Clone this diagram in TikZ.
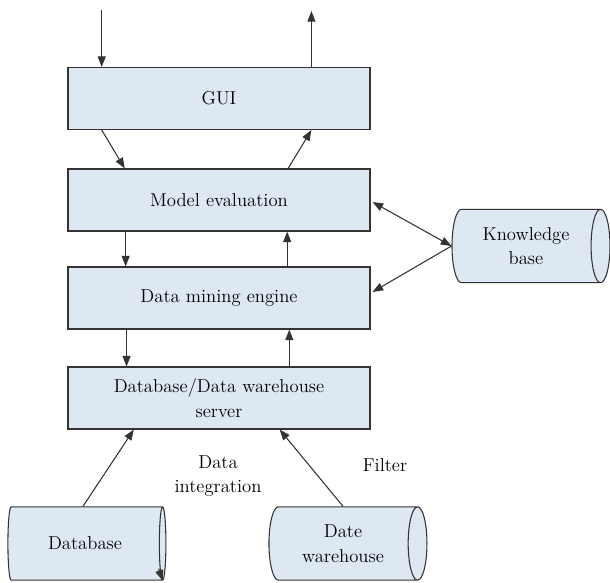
\documentclass[tikz,border=0pt]{standalone}
\usetikzlibrary{shapes.geometric,arrows.meta,calc}
\definecolor{boxfill}{HTML}{DDE8F3}
\definecolor{linegray}{HTML}{333333}
\begin{document}
\begin{tikzpicture}[x=0.75pt,y=-0.75pt,line width=0.8pt,
    font=\fontsize{14}{18.5}\selectfont,
    >={Triangle[length=8pt,width=6pt]},
    block/.style={draw=linegray,fill=boxfill,minimum width=226.5pt,minimum height=46.5pt,inner sep=0pt,align=center},
    store/.style={cylinder,draw=linegray,fill=boxfill,aspect=0.5,inner sep=0pt,minimum width=55pt,minimum height=118.5pt,align=center},
    link/.style={->,draw=linegray}]
  \useasboundingbox (0,0) rectangle (610,582);
  % the four layers
  \node[block] (gui) at (219,98.5) {GUI};
  \node[block] (model) at (219,200) {Model evaluation};
  \node[block] (mining) at (219,298) {Data mining engine};
  \node[block] (server) at (219,398) {Database/Data warehouse\\server};
  % the stores
  \node[store] (kb) at (526,246) {Knowledge\\base};
  \node[store] (db) at (85,543.5) {Database};
  \node[store] (dw) at (343,543.5) {Date\\warehouse};
  % user in and out
  \coordinate (userin) at ($(gui.south west)!0.113!(gui.south east)$);
  \coordinate (userout) at ($(gui.south west)!0.805!(gui.south east)$);
  \draw[link] (userin |- 0,10) -- (userin |- gui.north);
  \draw[link] (userout |- gui.north) -- (userout |- 0,11);
  % between the layers
  \draw[link] ($(gui.south west)!0.113!(gui.south east)$) -- ($(model.north west)!0.189!(model.north east)$);
  \draw[link] ($(model.north west)!0.728!(model.north east)$) -- ($(gui.south west)!0.805!(gui.south east)$);
  \draw[link] ($(model.south west)!0.192!(model.south east)$) -- ($(mining.north west)!0.192!(mining.north east)$);
  \draw[link] ($(mining.north west)!0.725!(mining.north east)$) -- ($(model.south west)!0.725!(model.south east)$);
  \draw[link] ($(mining.south west)!0.195!(mining.south east)$) -- ($(server.north west)!0.195!(server.north east)$);
  \draw[link] ($(server.north west)!0.732!(server.north east)$) -- ($(mining.south west)!0.732!(mining.south east)$);
  % knowledge base
  \draw[<->,draw=linegray] ($(model.east)+(2,2)$) -- (kb.west);
  \draw[link] (kb.west) -- ($(mining.east)+(2,-6)$);
  % sources
  \draw[link] ($(db.north)+(-2,0)$) -- ($(server.south west)!0.219!(server.south east)$);
  \draw[link] ($(dw.north)+(0,0)$) -- ($(server.south west)!0.70!(server.south east)$);
  \draw[link] ($(db.after top)+(-4,-12)$) -- (db.after top);
  \node (integ) at (218,476) [align=center] {Data\\integration};
  \node (filter) at (385,465) {Filter};
\end{tikzpicture}
\end{document}
